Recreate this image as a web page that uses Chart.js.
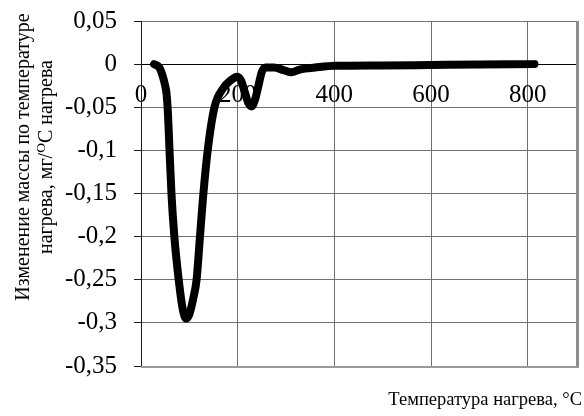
<!DOCTYPE html>
<html>
<head>
<meta charset="utf-8">
<script src="https://cdn.jsdelivr.net/npm/chart.js@4"></script>
<style>
  html, body { margin: 0; padding: 0; background: #fff; }
  #c { display: block; }
</style>
</head>
<body>
<canvas id="c" width="584" height="416"></canvas>
<script>
// Heating temperature, °C
const tempC = [27, 38, 45, 50, 53, 56, 59, 63, 69, 78, 86, 93, 100, 108, 115, 122, 128, 138, 152, 170, 185, 199,
               207, 215, 222, 229, 236, 243, 250, 258, 275, 295, 311, 330, 360, 400, 500, 600, 700, 814];
// Mass change per degree of heating, mg/°C
const dmass = [0, -0.004, -0.014, -0.025, -0.035, -0.06, -0.1, -0.15, -0.2, -0.25, -0.283, -0.295, -0.29, -0.272, -0.25, -0.2, -0.157, -0.1, -0.05, -0.028, -0.019, -0.0145,
               -0.019, -0.033, -0.045, -0.049, -0.041, -0.025, -0.009, -0.004, -0.004, -0.007, -0.0095, -0.006, -0.004, -0.002, -0.0015, -0.001, -0.0005, 0];

const xTicks = [0, 200, 400, 600, 800];
const yTicks = [0.05, 0, -0.05, -0.1, -0.15, -0.2, -0.25, -0.3, -0.35];
const yTickLabels = ['0,05', '0', '-0,05', '-0,1', '-0,15', '-0,2', '-0,25', '-0,3', '-0,35'];

const xTitle = 'Температура нагрева, °С';
const yTitleLine1 = 'Изменение массы по температуре';
const yTitleLine2 = ['нагрева, мг/', 'O', 'С нагрева'];

const SERIF = '"Liberation Serif", "Times New Roman", serif';

// Plot frame (grey right/bottom edges) and both axis titles
const decorations = {
  id: 'decorations',
  beforeDatasetsDraw(chart) {
    const { ctx, chartArea: a } = chart;
    ctx.save();
    ctx.strokeStyle = '#8c8c8c';
    ctx.lineWidth = 3;
    ctx.beginPath();
    ctx.moveTo(a.right + 1.5, a.top);
    ctx.lineTo(a.right + 1.5, a.bottom + 2);
    ctx.stroke();
    ctx.strokeStyle = '#9a9a9a';
    ctx.lineWidth = 2;
    ctx.beginPath();
    ctx.moveTo(a.left, a.bottom + 1);
    ctx.lineTo(a.right + 3, a.bottom + 1);
    ctx.stroke();
    ctx.restore();
  },
  afterDraw(chart) {
    const { ctx } = chart;
    ctx.save();
    ctx.fillStyle = '#000';

    // x title, bottom right
    ctx.font = '18.5px ' + SERIF;
    ctx.textAlign = 'right';
    ctx.textBaseline = 'alphabetic';
    ctx.fillText(xTitle, 582, 405);

    // y title, two rotated lines
    const cy = 157;
    const fs = 20, fsSup = 13.5;
    ctx.font = fs + 'px ' + SERIF;
    ctx.textBaseline = 'middle';
    ctx.save();
    ctx.translate(24, cy);
    ctx.rotate(-Math.PI / 2);
    ctx.textAlign = 'center';
    ctx.fillText(yTitleLine1, 0, 0);
    ctx.restore();

    ctx.save();
    ctx.translate(47, cy);
    ctx.rotate(-Math.PI / 2);
    ctx.textAlign = 'left';
    ctx.font = fs + 'px ' + SERIF;
    const w1 = ctx.measureText(yTitleLine2[0]).width;
    const w3 = ctx.measureText(yTitleLine2[2]).width;
    ctx.font = fsSup + 'px ' + SERIF;
    const w2 = ctx.measureText(yTitleLine2[1]).width;
    let x = -(w1 + w2 + w3) / 2;
    ctx.font = fs + 'px ' + SERIF;
    ctx.fillText(yTitleLine2[0], x, 0);
    x += w1;
    ctx.font = fsSup + 'px ' + SERIF;
    ctx.fillText(yTitleLine2[1], x, -6);
    x += w2;
    ctx.font = fs + 'px ' + SERIF;
    ctx.fillText(yTitleLine2[2], x, 0);
    ctx.restore();

    ctx.restore();
  }
};

new Chart(document.getElementById('c'), {
  type: 'line',
  data: {
    datasets: [{
      data: tempC.map((t, i) => ({ x: t, y: dmass[i] })),
      borderColor: '#000',
      borderWidth: 8,
      borderCapStyle: 'round',
      borderJoinStyle: 'round',
      pointRadius: 0,
      cubicInterpolationMode: 'monotone',
      fill: false
    }]
  },
  options: {
    responsive: false,
    devicePixelRatio: 1,
    animation: false,
    layout: { padding: { top: 21, right: 8, bottom: 50, left: 0 } },
    plugins: { legend: { display: false }, tooltip: { enabled: false } },
    scales: {
      x: {
        type: 'linear',
        min: 0,
        max: 900,
        position: { y: 0 },
        afterBuildTicks(scale) { scale.ticks = xTicks.map(v => ({ value: v })); },
        afterFit(scale) { scale.paddingLeft = 0; scale.paddingRight = 0; scale.paddingTop = 0; scale.paddingBottom = 0; },
        border: { display: true, color: '#000', width: 1 },
        grid: { color: '#707070', lineWidth: 1, drawTicks: false },
        ticks: {
          color: '#000',
          font: { family: SERIF, size: 25 },
          padding: 16,
          maxRotation: 0,
          autoSkip: false,
          callback: v => String(v)
        }
      },
      y: {
        type: 'linear',
        min: -0.35,
        max: 0.05,
        afterBuildTicks(scale) { scale.ticks = yTicks.map(v => ({ value: v })); },
        afterFit(scale) { scale.width = 141; scale.paddingTop = 0; scale.paddingBottom = 0; },
        border: { display: true, color: '#1a1a1a', width: 1 },
        grid: { color: '#707070', lineWidth: 1, tickColor: '#1a1a1a', tickLength: 7 },
        ticks: {
          color: '#000',
          font: { family: SERIF, size: 25 },
          padding: 17,
          autoSkip: false,
          callback: (v, i) => yTickLabels[i]
        }
      }
    }
  },
  plugins: [decorations]
});
</script>
</body>
</html>
